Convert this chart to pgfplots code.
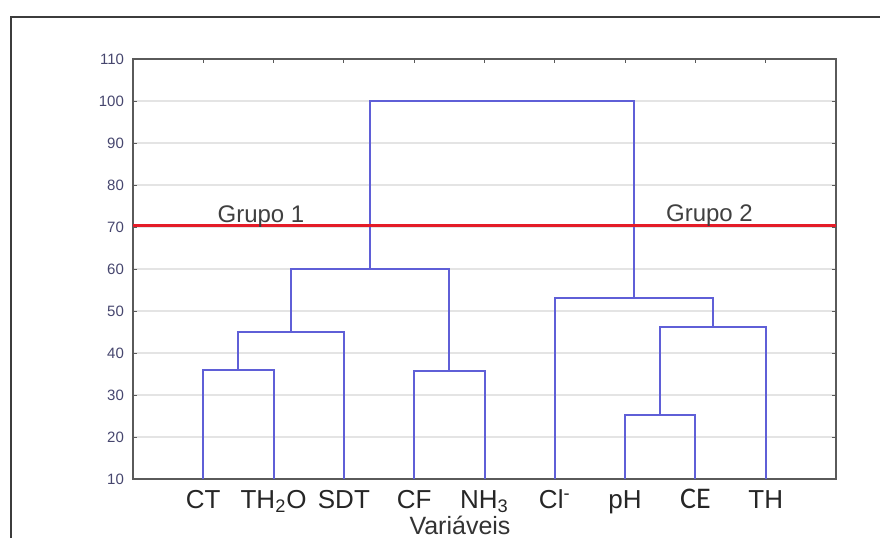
\documentclass[border=0pt]{standalone}
\usepackage{fontspec}
\setmainfont{Liberation Sans}
\newfontfamily\calibri{Carlito}
\usepackage{pgfplots}
\pgfplotsset{compat=1.18}
\definecolor{dblue}{RGB}{95,95,215}
\definecolor{lred}{RGB}{228,28,40}
\definecolor{tickc}{RGB}{70,70,110}
\definecolor{axc}{RGB}{90,90,90}
\definecolor{gridc}{RGB}{228,228,228}
\definecolor{framec}{RGB}{60,60,60}
\begin{document}
\begin{tikzpicture}[x=1pt,y=1pt]
\useasboundingbox (0,0) rectangle (440,269);
\draw[framec, line width=1pt] (5.5,0) -- (5.5,260.5) -- (440,260.5);
\begin{axis}[
  at={(66.5pt,29.5pt)}, anchor=south west,
  scale only axis, width=351.5pt, height=210pt,
  xmin=0, xmax=10, ymin=10, ymax=110,
  xtick={1,...,9},
  xticklabels={CT, TH\textsubscript{2}O, SDT, CF, NH\textsubscript{3}, Cl\textsuperscript{-}, pH, {\fontsize{15}{16}\selectfont\calibri CE}, TH},
  ytick={10,20,...,110},
  ymajorgrids, grid style={gridc, line width=0.6pt},
  axis line style={axc, line width=0.7pt},
  major tick length=2pt, tick style={axc, line width=0.5pt},
  tick align=inside,
  xticklabel style={font=\fontsize{13}{15}\selectfont, text=black!85, anchor=base, yshift=-14.5pt},
  yticklabel style={font=\fontsize{7.5}{8}\selectfont, text=tickc, xshift=-1pt},
  /pgf/number format/assume math mode=true,
  clip=false,
]
\addplot[dblue, line width=1pt] coordinates {(1,10) (1,36.0) (2,36.0) (2,10)};
\addplot[dblue, line width=1pt] coordinates {(1.5,36.0) (1.5,44.9) (3,44.9) (3,10)};
\addplot[dblue, line width=1pt] coordinates {(4,10) (4,35.7) (5,35.7) (5,10)};
\addplot[dblue, line width=1pt] coordinates {(2.25,44.9) (2.25,60.0) (4.5,60.0) (4.5,35.7)};
\addplot[dblue, line width=1pt] coordinates {(7,10) (7,25.2) (8,25.2) (8,10)};
\addplot[dblue, line width=1pt] coordinates {(7.5,25.2) (7.5,46.2) (9,46.2) (9,10)};
\addplot[dblue, line width=1pt] coordinates {(6,10) (6,53.1) (8.25,53.1) (8.25,46.2)};
\addplot[dblue, line width=1pt] coordinates {(3.375,60.0) (3.375,100) (7.125,100) (7.125,53.1)};
\addplot[lred, line width=1.5pt] coordinates {(0,70.3) (10,70.3)};
\node[anchor=base, font=\fontsize{12}{13}\selectfont, text=black!75] at (axis cs:1.82,71.0) {Grupo 1};
\node[anchor=base, font=\fontsize{12}{13}\selectfont, text=black!75] at (axis cs:8.2,71.3) {Grupo 2};
\end{axis}
\node[anchor=base, inner sep=0pt, font=\fontsize{12.5}{14}\selectfont, text=black!80] at (230,2) {Variáveis};
\end{tikzpicture}
\end{document}
